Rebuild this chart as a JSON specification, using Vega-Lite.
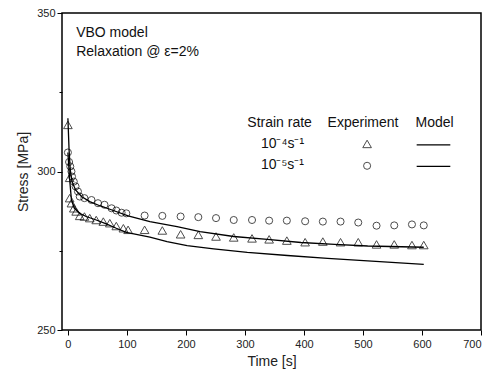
{
  "$schema": "https://vega.github.io/schema/vega-lite/v6.json",
  "width": 419,
  "height": 317,
  "autosize": "none",
  "padding": {"left": 62, "top": 13, "right": 22, "bottom": 48},
  "background": "white",
  "config": {
    "font": "Liberation Sans",
    "view": {"stroke": "black", "strokeWidth": 1.5},
    "axis": {"domain": false, "grid": false, "tickColor": "black", "labelColor": "#222", "titleColor": "#222", "labelFont": "Liberation Sans", "titleFont": "Liberation Sans", "labelFontSize": 11, "titleFontSize": 14, "titleFontWeight": "normal"}
  },
  "datasets": {
    "lines": [
      {"series": "a", "t": 0, "s": 316.8}, {"series": "a", "t": 2, "s": 306.8}, {"series": "a", "t": 4, "s": 300.5}, {"series": "a", "t": 7, "s": 296.8}, {"series": "a", "t": 13, "s": 294.2}, {"series": "a", "t": 23, "s": 292.1}, {"series": "a", "t": 37, "s": 290.5}, {"series": "a", "t": 54, "s": 289.2}, {"series": "a", "t": 77, "s": 287.7}, {"series": "a", "t": 102, "s": 286.0}, {"series": "a", "t": 139, "s": 284.2}, {"series": "a", "t": 185, "s": 282.6}, {"series": "a", "t": 224, "s": 281.0}, {"series": "a", "t": 281, "s": 279.5}, {"series": "a", "t": 338, "s": 278.6}, {"series": "a", "t": 395, "s": 277.6}, {"series": "a", "t": 452, "s": 277.0}, {"series": "a", "t": 508, "s": 276.5}, {"series": "a", "t": 603, "s": 276.1},
      {"series": "b", "t": 0, "s": 306.0}, {"series": "b", "t": 3, "s": 297.4}, {"series": "b", "t": 6, "s": 291.0}, {"series": "b", "t": 11, "s": 288.4}, {"series": "b", "t": 20, "s": 286.8}, {"series": "b", "t": 31, "s": 285.8}, {"series": "b", "t": 48, "s": 284.7}, {"series": "b", "t": 65, "s": 283.5}, {"series": "b", "t": 82, "s": 282.1}, {"series": "b", "t": 99, "s": 280.8}, {"series": "b", "t": 139, "s": 279.3}, {"series": "b", "t": 168, "s": 277.9}, {"series": "b", "t": 202, "s": 276.6}, {"series": "b", "t": 247, "s": 275.6}, {"series": "b", "t": 304, "s": 274.5}, {"series": "b", "t": 372, "s": 273.5}, {"series": "b", "t": 440, "s": 272.6}, {"series": "b", "t": 508, "s": 271.8}, {"series": "b", "t": 603, "s": 270.7},
      {"series": "legA", "t": 591, "s": 308.4}, {"series": "legA", "t": 648, "s": 308.4},
      {"series": "legB", "t": 591, "s": 301.6}, {"series": "legB", "t": 648, "s": 301.6}
    ],
    "points": [
      {"rate": "1e-4", "t": 0, "s": 314.7}, {"rate": "1e-4", "t": 3, "s": 298.0}, {"rate": "1e-4", "t": 3, "s": 291.6}, {"rate": "1e-4", "t": 6, "s": 290.0}, {"rate": "1e-4", "t": 10, "s": 288.4}, {"rate": "1e-4", "t": 14, "s": 287.4}, {"rate": "1e-4", "t": 20, "s": 286.0}, {"rate": "1e-4", "t": 28, "s": 285.8}, {"rate": "1e-4", "t": 37, "s": 285.3}, {"rate": "1e-4", "t": 48, "s": 284.7}, {"rate": "1e-4", "t": 60, "s": 284.2}, {"rate": "1e-4", "t": 71, "s": 283.7}, {"rate": "1e-4", "t": 82, "s": 282.8}, {"rate": "1e-4", "t": 94, "s": 282.1}, {"rate": "1e-4", "t": 102, "s": 281.6}, {"rate": "1e-4", "t": 130, "s": 281.6}, {"rate": "1e-4", "t": 160, "s": 281.4}, {"rate": "1e-4", "t": 191, "s": 280.2}, {"rate": "1e-4", "t": 221, "s": 280.0}, {"rate": "1e-4", "t": 251, "s": 279.5}, {"rate": "1e-4", "t": 281, "s": 279.2}, {"rate": "1e-4", "t": 312, "s": 278.9}, {"rate": "1e-4", "t": 341, "s": 278.6}, {"rate": "1e-4", "t": 371, "s": 278.2}, {"rate": "1e-4", "t": 402, "s": 277.7}, {"rate": "1e-4", "t": 432, "s": 277.9}, {"rate": "1e-4", "t": 462, "s": 277.7}, {"rate": "1e-4", "t": 492, "s": 277.7}, {"rate": "1e-4", "t": 523, "s": 277.0}, {"rate": "1e-4", "t": 553, "s": 277.0}, {"rate": "1e-4", "t": 583, "s": 276.8}, {"rate": "1e-4", "t": 603, "s": 276.8},
      {"rate": "1e-5", "t": 0, "s": 306.0}, {"rate": "1e-5", "t": 2, "s": 303.0}, {"rate": "1e-5", "t": 4, "s": 301.6}, {"rate": "1e-5", "t": 6, "s": 300.0}, {"rate": "1e-5", "t": 7, "s": 298.4}, {"rate": "1e-5", "t": 10, "s": 296.8}, {"rate": "1e-5", "t": 13, "s": 295.3}, {"rate": "1e-5", "t": 17, "s": 293.7}, {"rate": "1e-5", "t": 20, "s": 292.1}, {"rate": "1e-5", "t": 28, "s": 291.6}, {"rate": "1e-5", "t": 40, "s": 291.0}, {"rate": "1e-5", "t": 51, "s": 290.0}, {"rate": "1e-5", "t": 62, "s": 289.5}, {"rate": "1e-5", "t": 74, "s": 288.4}, {"rate": "1e-5", "t": 82, "s": 287.7}, {"rate": "1e-5", "t": 91, "s": 287.0}, {"rate": "1e-5", "t": 99, "s": 286.8}, {"rate": "1e-5", "t": 130, "s": 286.1}, {"rate": "1e-5", "t": 160, "s": 286.0}, {"rate": "1e-5", "t": 191, "s": 285.8}, {"rate": "1e-5", "t": 221, "s": 285.6}, {"rate": "1e-5", "t": 251, "s": 285.3}, {"rate": "1e-5", "t": 281, "s": 284.7}, {"rate": "1e-5", "t": 312, "s": 284.7}, {"rate": "1e-5", "t": 341, "s": 284.5}, {"rate": "1e-5", "t": 371, "s": 284.5}, {"rate": "1e-5", "t": 402, "s": 284.3}, {"rate": "1e-5", "t": 432, "s": 284.2}, {"rate": "1e-5", "t": 462, "s": 284.2}, {"rate": "1e-5", "t": 492, "s": 283.9}, {"rate": "1e-5", "t": 523, "s": 282.9}, {"rate": "1e-5", "t": 553, "s": 283.0}, {"rate": "1e-5", "t": 583, "s": 283.3}, {"rate": "1e-5", "t": 603, "s": 283.0},
      {"rate": "1e-4", "t": 507, "s": 308.7}, {"rate": "1e-5", "t": 507, "s": 301.8}
    ],
    "texts": [
      {"label": "VBO model", "t": 14, "s": 343.7},
      {"label": "Relaxation @ ε=2%", "t": 14, "s": 337.6},
      {"label": "Strain rate", "t": 304, "s": 315.2},
      {"label": "Experiment", "t": 440, "s": 315.2},
      {"label": "Model", "t": 589, "s": 315.2},
      {"label": "10⁻⁴s⁻¹", "t": 327, "s": 308.8},
      {"label": "10⁻⁵s⁻¹", "t": 327, "s": 302.2}
    ]
  },
  "layer": [
    {
      "data": {"name": "lines"},
      "mark": {"type": "line", "color": "black", "strokeWidth": 1.3, "clip": true},
      "encoding": {
        "x": {"field": "t", "type": "quantitative", "scale": {"domain": [-10, 700], "nice": false, "zero": false}, "axis": {"values": [0, 50, 100, 150, 200, 250, 300, 350, 400, 450, 500, 550, 600, 650, 700], "labelExpr": "datum.value % 100 === 0 ? datum.label : ''", "tickSize": {"expr": "datum.value % 100 === 0 ? 5 : 3"}, "title": "Time [s]", "titlePadding": 5, "labelPadding": 3}},
        "y": {"field": "s", "type": "quantitative", "scale": {"domain": [250, 350], "nice": false, "zero": false}, "axis": {"values": [250, 275, 300, 325, 350], "labelExpr": "datum.value % 50 === 0 ? datum.label : ''", "tickSize": {"expr": "datum.value % 50 === 0 ? 5 : 3"}, "title": "Stress [MPa]", "titlePadding": 6, "labelPadding": 2}},
        "detail": {"field": "series"}
      }
    },
    {
      "data": {"name": "points"},
      "mark": {"type": "point", "filled": false, "stroke": "black", "strokeWidth": 1},
      "encoding": {
        "x": {"field": "t", "type": "quantitative"},
        "y": {"field": "s", "type": "quantitative"},
        "shape": {"field": "rate", "type": "nominal", "scale": {"domain": ["1e-4", "1e-5"], "range": ["triangle-up", "circle"]}, "legend": null},
        "size": {"field": "rate", "type": "nominal", "scale": {"domain": ["1e-4", "1e-5"], "range": [75, 50]}, "legend": null}
      }
    },
    {
      "data": {"name": "texts"},
      "mark": {"type": "text", "fontSize": 14, "color": "#111", "baseline": "middle", "align": "left"},
      "encoding": {
        "x": {"field": "t", "type": "quantitative"},
        "y": {"field": "s", "type": "quantitative"},
        "text": {"field": "label"}
      }
    }
  ]
}
